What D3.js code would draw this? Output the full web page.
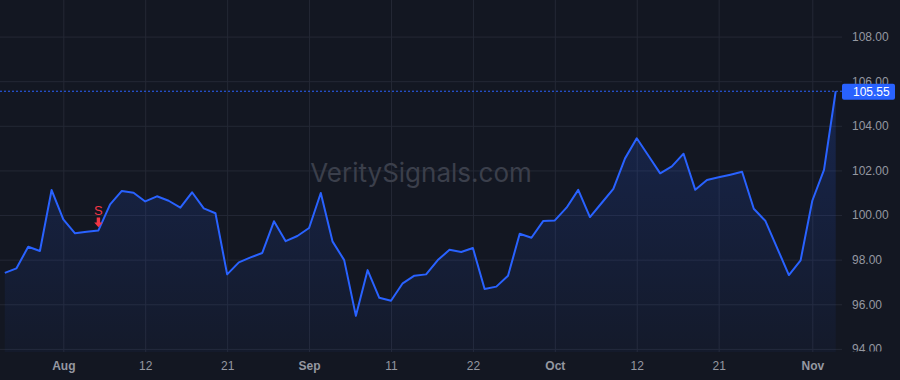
<!DOCTYPE html>
<html>
<head>
<meta charset="utf-8">
<script src="https://cdn.jsdelivr.net/npm/d3@7"></script>
<style>
  html, body { margin: 0; padding: 0; background: #131722; }
  svg { display: block; font-family: "Liberation Sans", Arial, sans-serif; }
</style>
</head>
<body>
<div id="chart"></div>
<script>
// closing prices, one per session
const prices = [
  97.41, 97.61, 98.58, 98.39, 101.12, 99.81, 99.18, 99.25, 99.31, 100.48,
  101.08, 101.00, 100.61, 100.84, 100.64, 100.33, 101.02, 100.30, 100.08, 97.34,
  97.88, 98.10, 98.30, 99.72, 98.83, 99.06, 99.42, 100.99, 98.82, 97.98,
  95.48, 97.53, 96.29, 96.16, 96.94, 97.28, 97.34, 97.98, 98.44, 98.34,
  98.52, 96.68, 96.79, 97.28, 99.16, 98.98, 99.73, 99.76, 100.33, 101.13,
  99.91, 100.54, 101.17, 102.54, 103.44, 102.66, 101.87, 102.18, 102.75, 101.13,
  101.57, 101.69, 101.81, 101.94, 100.28, 99.73, 98.52, 97.31, 97.97, 100.64,
  102.02, 105.55
];
// session index of each time-axis label
const xTickIndex = [5, 12, 19, 26, 33, 40, 47, 54, 61, 69];
const xTickLabels = ["Aug", "12", "21", "Sep", "11", "22", "Oct", "12", "21", "Nov"];
const monthLabels = ["Aug", "Sep", "Oct", "Nov"];
const yTicks = [94, 96, 98, 100, 102, 104, 106, 108];
// signal markers (session index, label)
const signals = [{ index: 8, label: "S" }];
const watermark = "VeritySignals.com";

const width = 900, height = 380;
const paneW = 842, paneH = 352;

const svg = d3.select("#chart").append("svg")
  .attr("width", width)
  .attr("height", height);

svg.append("rect")
  .attr("width", width).attr("height", height)
  .attr("fill", "#131722");

let x = d3.scaleLinear()
  .domain([0, prices.length - 1])
  .range([4.8, 835.7]);

let y = d3.scaleLinear()
  .domain([93.86, 109.64])
  .range([paneH, 0]);

let defs = svg.append("defs");
// price scale labels get cut off at the bottom of the pane
defs.append("clipPath").attr("id", "pane")
  .append("rect").attr("width", width).attr("height", paneH - 0.5);

let grad = defs.append("linearGradient")
  .attr("id", "fillGrad")
  .attr("gradientUnits", "userSpaceOnUse")
  .attr("x1", 0).attr("y1", 80).attr("x2", 0).attr("y2", paneH);
grad.append("stop").attr("offset", "0%").attr("stop-color", "#2962ff").attr("stop-opacity", 0.2);
grad.append("stop").attr("offset", "100%").attr("stop-color", "#2962ff").attr("stop-opacity", 0.04);

// grid
svg.append("g")
  .attr("class", "ygrid")
  .call(d3.axisLeft(y).tickValues(yTicks).tickSize(-paneW).tickFormat(""))
  .call(g => g.select(".domain").remove())
  .call(g => g.selectAll("line").attr("stroke", "#242835").attr("x1", 0).attr("x2", paneW));

svg.append("g")
  .attr("class", "xgrid")
  .call(d3.axisTop(x).tickValues(xTickIndex).tickSize(-paneH).tickFormat(""))
  .call(g => g.select(".domain").remove())
  .call(g => g.selectAll("line").attr("stroke", "#242835"));

// watermark
svg.append("text")
  .attr("x", paneW / 2)
  .attr("y", 172)
  .attr("text-anchor", "middle")
  .attr("dominant-baseline", "central")
  .attr("font-family", "Inter, 'Liberation Sans', sans-serif")
  .attr("font-size", 26)
  .attr("fill", "#3b3f4b")
  .text(watermark);

// area + line
let area = d3.area()
  .x((d, i) => x(i))
  .y0(paneH)
  .y1(d => y(d));

let line = d3.line()
  .x((d, i) => x(i))
  .y(d => y(d));

svg.append("path")
  .datum(prices)
  .attr("d", area)
  .attr("fill", "url(#fillGrad)");

svg.append("path")
  .datum(prices)
  .attr("d", line)
  .attr("fill", "none")
  .attr("stroke", "#2962ff")
  .attr("stroke-width", 2)
  .attr("stroke-linejoin", "round");

// last price line
const last = prices[prices.length - 1];
svg.append("line")
  .attr("x1", 0).attr("x2", paneW)
  .attr("y1", y(last)).attr("y2", y(last))
  .attr("stroke", "#2962ff")
  .attr("stroke-width", 1)
  .attr("stroke-dasharray", "2,2");

// signal markers
let sig = svg.append("g").selectAll("g").data(signals).enter().append("g")
  .attr("transform", d => `translate(${x(d.index)},${y(prices[d.index])})`);
sig.append("path")
  .attr("d", "M-1.7,-13 L1.7,-13 L1.7,-8 L4.2,-8 L0,-3.2 L-4.2,-8 L-1.7,-8 Z")
  .attr("fill", "#f23645");
sig.append("text")
  .attr("y", -20)
  .attr("text-anchor", "middle")
  .attr("dominant-baseline", "central")
  .attr("font-size", 13)
  .attr("fill", "#f23645")
  .text(d => d.label);

// price axis
svg.append("g")
  .attr("clip-path", "url(#pane)")
  .append("g")
  .attr("transform", `translate(${paneW},0)`)
  .call(d3.axisRight(y).tickValues(yTicks).tickSize(0).tickPadding(10).tickFormat(d3.format(".2f")))
  .call(g => g.select(".domain").remove())
  .call(g => g.selectAll("text")
    .attr("fill", "#9598a1")
    .attr("font-size", 12)
    .attr("font-family", "'Liberation Sans', Arial, sans-serif"));

// last price label
svg.append("rect")
  .attr("x", paneW).attr("y", y(last) - 7.5)
  .attr("width", 53).attr("height", 16)
  .attr("rx", 2)
  .attr("fill", "#2962ff");
svg.append("text")
  .attr("x", paneW + 11).attr("y", y(last) + 0.5)
  .attr("dominant-baseline", "central")
  .attr("font-size", 12)
  .attr("fill", "#ffffff")
  .text(d3.format(".2f")(last));

// time axis
svg.append("g")
  .attr("transform", `translate(0,${paneH})`)
  .call(d3.axisBottom(x).tickValues(xTickIndex).tickSize(0).tickPadding(9)
    .tickFormat((d, i) => xTickLabels[i]))
  .call(g => g.select(".domain").remove())
  .call(g => g.selectAll("text")
    .attr("fill", "#9598a1")
    .attr("font-size", 12)
    .attr("font-family", "'Liberation Sans', Arial, sans-serif")
    .attr("font-weight", (d, i) => monthLabels.includes(xTickLabels[i]) ? "bold" : "normal"));
</script>
</body>
</html>
